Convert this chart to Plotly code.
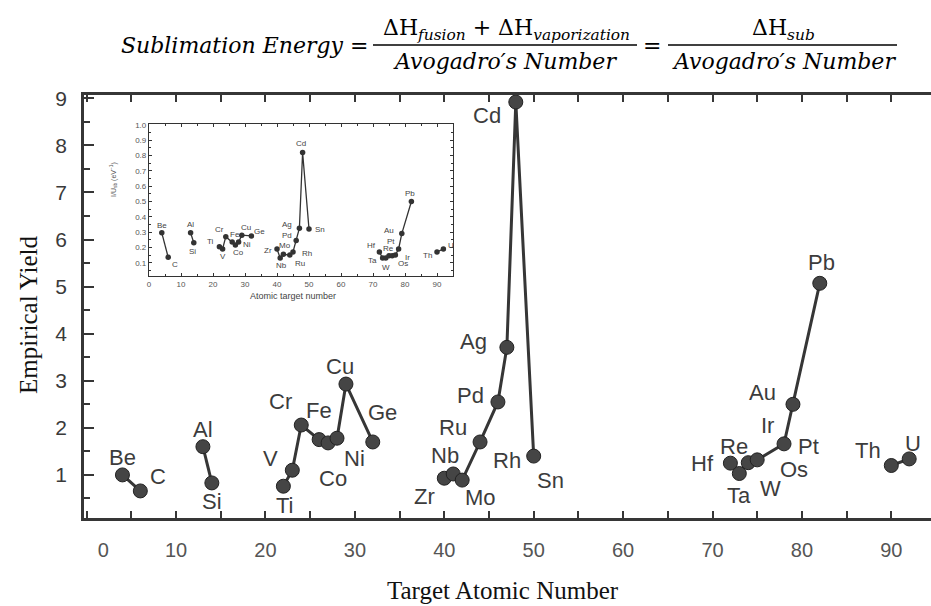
import plotly.graph_objects as go

# ---------------- data ----------------
main_names = ["Be", "C", "Al", "Si", "Ti", "V", "Cr", "Fe", "Co", "Ni", "Cu", "Ge",
              "Zr", "Nb", "Mo", "Ru", "Pd", "Ag", "Cd", "Sn",
              "Hf", "Ta", "W", "Re", "Pt", "Au", "Pb", "Th", "U"]
main_z = [4, 6, 13, 14, 22, 23, 24, 26, 27, 28, 29, 32,
          40, 41, 42, 44, 46, 47, 48, 50,
          72, 73, 74, 75, 78, 79, 82, 90, 92]
main_yield = [1.0, 0.66, 1.6, 0.83, 0.76, 1.1, 2.06, 1.75, 1.68, 1.78, 2.93, 1.7,
              0.93, 1.02, 0.89, 1.7, 2.55, 3.71, 8.92, 1.4,
              1.25, 1.03, 1.26, 1.32, 1.66, 2.5, 5.07, 1.2, 1.34]
main_group = [0, 0, 1, 1, 2, 2, 2, 2, 2, 2, 2, 2,
              3, 3, 3, 3, 3, 3, 3, 3,
              4, 4, 4, 4, 4, 4, 4, 5, 5]

inset_names = ["Be", "C", "Al", "Si", "Ti", "V", "Cr", "Fe", "Co", "Ni", "Cu", "Ge",
               "Zr", "Nb", "Mo", "Ru", "Rh", "Pd", "Ag", "Cd", "Sn",
               "Hf", "Ta", "W", "Re", "Os", "Ir", "Pt", "Au", "Pb", "Th", "U"]
inset_z = [4, 6, 13, 14, 22, 23, 24, 26, 27, 28, 29, 32,
           40, 41, 42, 44, 45, 46, 47, 48, 50,
           72, 73, 74, 75, 76, 77, 78, 79, 82, 90, 92]
inset_val = [0.295, 0.135, 0.295, 0.23, 0.205, 0.19, 0.27, 0.235, 0.215, 0.235, 0.28, 0.275,
             0.19, 0.13, 0.155, 0.15, 0.17, 0.245, 0.325, 0.82, 0.32,
             0.17, 0.13, 0.13, 0.145, 0.145, 0.15, 0.19, 0.29, 0.50, 0.17, 0.19]
inset_group = [0, 0, 1, 1, 2, 2, 2, 2, 2, 2, 2, 2,
               3, 3, 3, 3, 3, 3, 3, 3, 3,
               4, 4, 4, 4, 4, 4, 4, 4, 4, 5, 5]

x_ticks = [0, 10, 20, 30, 40, 50, 60, 70, 80, 90]
y_ticks = [1, 2, 3, 4, 5, 6, 7, 8, 9]
inset_x_ticks = [0, 10, 20, 30, 40, 50, 60, 70, 80, 90]
inset_y_ticks = [0.1, 0.2, 0.3, 0.4, 0.5, 0.6, 0.7, 0.8, 0.9, 1.0]

# label placement: (text, anchor element, dx px, dy px)
main_label_pos = [
    ("Be", "Be", 0, -17), ("C", "C", 18, -14), ("Al", "Al", 0, -17), ("Si", "Si", 0, 19),
    ("Ti", "Ti", 2, 19), ("V", "V", -22, -12), ("Cr", "Cr", -21, -24), ("Fe", "Fe", 0, -29),
    ("Co", "Co", 5, 36), ("Ni", "Ni", 17, 20), ("Cu", "Cu", -6, -18), ("Ge", "Ge", 10, -29),
    ("Zr", "Zr", -20, 18), ("Nb", "Nb", -8, -18), ("Mo", "Mo", 18, 17), ("Ru", "Ru", -27, -14),
    ("Pd", "Pd", -27, -6), ("Ag", "Ag", -33, -6), ("Cd", "Cd", -29, 13), ("Sn", "Sn", 17, 24),
    ("Rh", "Sn", -27, 4),
    ("Hf", "Hf", -28, 0), ("Ta", "Ta", 0, 22), ("W", "W", 22, 26), ("Re", "Re", -23, -13),
    ("Os", "Re", 37, 10), ("Ir", "Pt", -17, -18), ("Pt", "Pt", 24, 3), ("Au", "Au", -30, -12),
    ("Pb", "Pb", 2, -21), ("Th", "Th", -23, -15), ("U", "U", 4, -15),
]
inset_label_pos = {
    "Be": (0, -7), "C": (7, 7), "Al": (0, -8), "Si": (-1, 9), "Ti": (-9, -5), "V": (0, 8),
    "Cr": (-6, -7), "Fe": (3, -8), "Co": (3, 7), "Ni": (8, 2), "Cu": (4, -8), "Ge": (8, -4),
    "Zr": (-9, 2), "Nb": (1, 7), "Mo": (2, -9), "Ru": (10, 8), "Rh": (14, 2), "Pd": (-9, -5),
    "Ag": (-12, -4), "Cd": (-2, -9), "Sn": (11, 0),
    "Hf": (-8, -6), "Ta": (-10, 2), "W": (0, 9), "Re": (-1, -7), "Os": (11, 8), "Ir": (12, 2),
    "Pt": (-8, -7), "Au": (-13, -3), "Pb": (-1, -8), "Th": (-10, 4), "U": (8, -3),
}

INK = "#363636"
LABEL = "#3c3c3c"
SANS = "Liberation Sans, Arial, sans-serif"


def with_gaps(xs, ys, groups):
    gx, gy = [], []
    for i, (x, y) in enumerate(zip(xs, ys)):
        if i > 0 and groups[i] != groups[i - 1]:
            gx.append(None)
            gy.append(None)
        gx.append(x)
        gy.append(y)
    return gx, gy


fig = go.Figure()

mx, my = with_gaps(main_z, main_yield, main_group)
fig.add_trace(go.Scatter(
    x=mx, y=my, mode="lines+markers", connectgaps=False,
    line=dict(color=INK, width=3),
    marker=dict(size=14, color="#454545", line=dict(color="#222", width=1)),
    hoverinfo="skip", showlegend=False, xaxis="x", yaxis="y"))

ix, iy = with_gaps(inset_z, inset_val, inset_group)
fig.add_trace(go.Scatter(
    x=ix, y=iy, mode="lines+markers", connectgaps=False,
    line=dict(color="#333", width=1.3),
    marker=dict(size=5.5, color="#333"),
    hoverinfo="skip", showlegend=False, xaxis="x2", yaxis="y2"))

annotations = []
zmap = dict(zip(main_names, main_z))
ymap = dict(zip(main_names, main_yield))
for text, anchor, dx, dy in main_label_pos:
    annotations.append(dict(
        x=zmap[anchor], y=ymap[anchor], xref="x", yref="y", text=text, showarrow=False,
        xshift=dx, yshift=-dy, xanchor="center", yanchor="middle",
        font=dict(family=SANS, size=22, color=LABEL)))

for name, z, v in zip(inset_names, inset_z, inset_val):
    dx, dy = inset_label_pos[name]
    annotations.append(dict(
        x=z, y=v, xref="x2", yref="y2", text=name, showarrow=False,
        xshift=dx, yshift=-dy, xanchor="center", yanchor="middle",
        font=dict(family=SANS, size=8, color="#444")))

# plot area in pixels: x 84..931, y 95..518
L, R, T, B = 84, 931, 95, 518


def px(xp):
    return (xp - L) / (R - L)


def py(yp):
    return (B - yp) / (B - T)


SERIF = "Liberation Serif, Times New Roman, serif"
EQ = "DejaVu Serif, serif"
EQS = 22


def paper_text(xp, yp, text, font, angle=0):
    return dict(x=px(xp), y=py(yp), xref="paper", yref="paper", text=text,
                showarrow=False, xanchor="center", yanchor="middle",
                textangle=angle, font=font)


eqfont = dict(family=EQ, size=EQS, color="#000")
annotations += [
    paper_text(28, 315, "Empirical Yield", dict(family=SERIF, size=25, color="#111"), -90),
    paper_text(503, 590, "Target Atomic Number", dict(family=SERIF, size=25, color="#111")),
    paper_text(113, 180, "I/U<sub>sb</sub> (eV<sup>−1</sup>)",
               dict(family=SANS, size=7, color="#555"), -90),
    paper_text(293, 296, "Atomic target number", dict(family=SANS, size=9, color="#444")),
    # equation
    paper_text(244, 45, "<i>Sublimation Energy</i> =", eqfont),
    paper_text(506, 30, "ΔH<sub><i>fusion</i></sub> + ΔH<sub><i>vaporization</i></sub>", eqfont),
    paper_text(505, 61, "<i>Avogadro′s Number</i>", eqfont),
    paper_text(652, 45, "=", eqfont),
    paper_text(783, 30, "ΔH<sub><i>sub</i></sub>", eqfont),
    paper_text(784, 61, "<i>Avogadro′s Number</i>", eqfont),
]

shapes = [
    dict(type="line", xref="paper", yref="paper", x0=px(373), x1=px(637), y0=py(45), y1=py(45),
         line=dict(color="#000", width=1.5)),
    dict(type="line", xref="paper", yref="paper", x0=px(668), x1=px(897), y0=py(45), y1=py(45),
         line=dict(color="#000", width=1.5)),
]

x_text = [("\u00a0" * 6 + "0") if v == 0 else str(v) for v in x_ticks]

fig.update_layout(
    width=931, height=606,
    margin=dict(l=L, r=931 - R, t=T, b=606 - B),
    paper_bgcolor="white", plot_bgcolor="white",
    font=dict(family=SANS, color="#444"),
    annotations=annotations, shapes=shapes,
    xaxis=dict(
        range=[-0.3, 94.44], domain=[0, 1], anchor="y",
        tickvals=x_ticks, ticktext=x_text,
        ticks="inside", ticklen=7, tickwidth=2, tickcolor=INK,
        minor=dict(dtick=5, tick0=0, ticks="inside", ticklen=7, tickwidth=2, tickcolor=INK),
        showline=True, linewidth=2.5, linecolor=INK, mirror="ticks",
        showgrid=False, zeroline=False, ticklabelstandoff=12,
        tickfont=dict(family=SANS, size=20, color="#555")),
    yaxis=dict(
        range=[0.085, 9.07], domain=[0, 1], anchor="x",
        tickvals=y_ticks,
        ticks="inside", ticklen=10, tickwidth=2, tickcolor=INK,
        minor=dict(dtick=0.5, tick0=0, ticks="inside", ticklen=6, tickwidth=2, tickcolor=INK),
        showline=True, linewidth=2.5, linecolor=INK, mirror=False,
        showgrid=False, zeroline=False, ticklabelstandoff=10,
        tickfont=dict(family=SANS, size=21, color="#3a3a3a")),
    xaxis2=dict(
        range=[0, 95], domain=[px(149), px(453)], anchor="y2",
        tickvals=inset_x_ticks,
        ticks="inside", ticklen=3, tickwidth=1, tickcolor="#333",
        minor=dict(dtick=5, tick0=0, ticks="inside", ticklen=2, tickwidth=1, tickcolor="#333"),
        showline=True, linewidth=1.2, linecolor="#333", mirror="ticks",
        showgrid=False, zeroline=False,
        tickfont=dict(family=SANS, size=8, color="#555")),
    yaxis2=dict(
        range=[0.013, 1.0065], domain=[py(276), py(124)], anchor="x2",
        tickvals=inset_y_ticks, tickformat=".1f",
        ticks="inside", ticklen=3, tickwidth=1, tickcolor="#333",
        minor=dict(dtick=0.05, tick0=0, ticks="inside", ticklen=2, tickwidth=1, tickcolor="#333"),
        showline=True, linewidth=1.2, linecolor="#333", mirror="ticks",
        showgrid=False, zeroline=False,
        tickfont=dict(family=SANS, size=8, color="#555")),
)

fig.write_html("out.html")
